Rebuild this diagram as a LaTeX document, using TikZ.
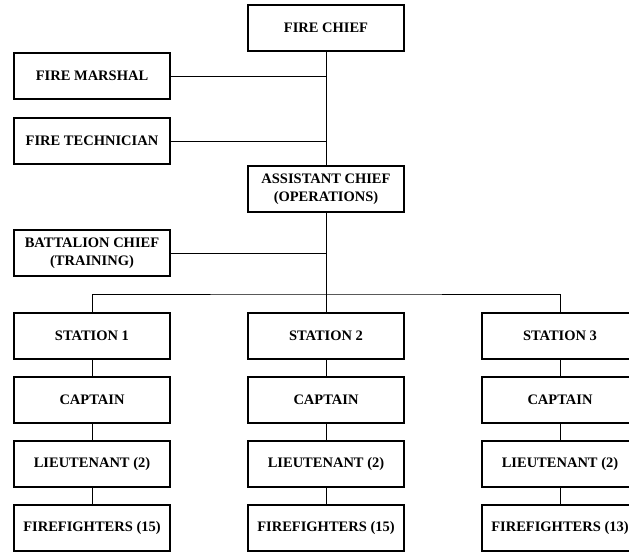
\documentclass[tikz,border=0pt]{standalone}
\usepackage{fontspec}
\setmainfont{Liberation Serif}
\usetikzlibrary{positioning}

\tikzset{
  post/.style={draw, line width=2.2pt, minimum width=156pt, minimum height=46pt,
    align=center, font=\fontsize{14.5}{18}\selectfont\bfseries},
  link/.style={line width=0.8pt}
}

\begin{document}
\begin{tikzpicture}[x=1pt,y=1pt,node distance=64pt,on grid]
\useasboundingbox (-326,28) rectangle (303,-524);
\clip (-326,28) rectangle (303,-524);

\node[post] (chief) {FIRE CHIEF};
\node[post] (marshal) [below left=48pt and 234pt of chief] {FIRE MARSHAL};
\node[post] (tech) [below=65pt of marshal] {FIRE TECHNICIAN};
\node[post] (asst) [below=161pt of chief] {ASSISTANT CHIEF\\(OPERATIONS)};
\node[post] (batt) [below left=64pt and 234pt of asst] {BATTALION CHIEF\\(TRAINING)};
\coordinate[below=105pt of asst] (bus);

\node[post] (st2) [below=147pt of asst] {STATION 2};
\node[post] (st1) [left=234pt of st2] {STATION 1};
\node[post] (st3) [right=234pt of st2] {STATION 3};

\foreach \i/\n in {1/15,2/15,3/13} {
  \node[post] (cap\i) [below=of st\i] {CAPTAIN};
  \node[post] (lt\i) [below=of cap\i] {LIEUTENANT (2)};
  \node[post] (ff\i) [below=of lt\i] {FIREFIGHTERS (\n)};
  \draw[link] (st\i) -- (cap\i) (cap\i) -- (lt\i) (lt\i) -- (ff\i);
}

\draw[link] (chief) -- (asst);
\draw[link] (marshal) -- (marshal -| chief);
\draw[link] (tech) -- (tech -| chief);
\draw[link] (asst) -- (bus);
\draw[link] (batt) -- (batt -| asst);
\draw[link] (st1) |- (bus) -| (st3);
\draw[link] (bus) -- (st2);
\end{tikzpicture}
\end{document}
